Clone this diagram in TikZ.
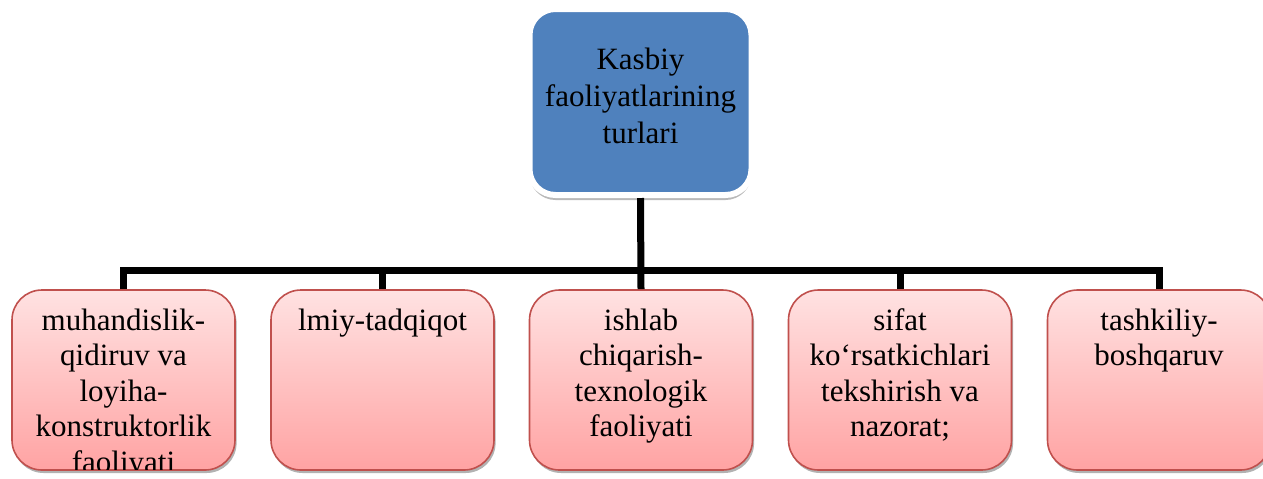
\documentclass[tikz,border=0pt]{standalone}
\usepackage{fontspec}
\setmainfont{Liberation Serif}
\usetikzlibrary{shadows}
\definecolor{topblue}{RGB}{79,129,189}
\definecolor{boxred}{RGB}{192,80,77}
\definecolor{pinktop}{RGB}{255,226,226}
\definecolor{pinkbot}{RGB}{255,163,163}
\newcommand\boxfont{\fontsize{15.5pt}{17.75pt}\selectfont}

\begin{document}
\begin{tikzpicture}[
x=0.5pt,y=-0.5pt,
topbox/.style={draw=white,line width=3pt,fill=topblue,rounded corners=13pt,
  minimum width=111pt,minimum height=93pt,align=center,text depth=6pt,
  font=\fontsize{15.5pt}{18.5pt}\selectfont,
  drop shadow={shadow xshift=0pt,shadow yshift=-2.5pt,fill=gray!55,opacity=1}},
subbox/.style={draw=boxred,line width=0.8pt,top color=pinktop,bottom color=pinkbot,
  rounded corners=15pt,minimum width=111.5pt,minimum height=90pt,
  drop shadow={shadow xshift=0.8pt,shadow yshift=-1.5pt,fill=gray!60,opacity=1}},
subtext/.style={align=center,font=\boxfont,inner sep=0pt},
link/.style={line width=3.5pt}
]
\useasboundingbox (0,0) rectangle (1263,478);

% main box
\node[topbox] (top) at (640.5,102) {Kasbiy\\faoliyatlarining\\turlari};

% sub boxes, text clipped to the box
\foreach \n/\x/\txt in {
  b1/123.5/{muhandislik-\\qidiruv va\\loyiha-\\konstruktorlik\\faoliyati},
  b2/382.5/{lmiy-tadqiqot},
  b3/641/{ishlab\\chiqarish-\\texnologik\\faoliyati},
  b4/900/{sifat\\ko‘rsatkichlari\\tekshirish va\\nazorat;},
  b5/1159/{tashkiliy-\\boshqaruv}}
{
\node[subbox] (\n) at (\x,380) {};
\begin{scope}
\clip[rounded corners=15pt] ([yshift=0.5pt]\n.south west) rectangle (\n.north east);
\node[subtext,anchor=north] (\n-txt) at ([yshift=-9.5pt]\n.north) {\txt};
\end{scope}
}

% connectors
\coordinate (bar) at (640,270);
\draw[link] (top.south) -- (b3.north);
\draw[link] (b1.north) |- (bar) -| (b5.north);
\foreach \n in {b2,b4}
{
\draw[link] (\n.north) -- (\n.north |- bar);
}
\end{tikzpicture}
\end{document}
